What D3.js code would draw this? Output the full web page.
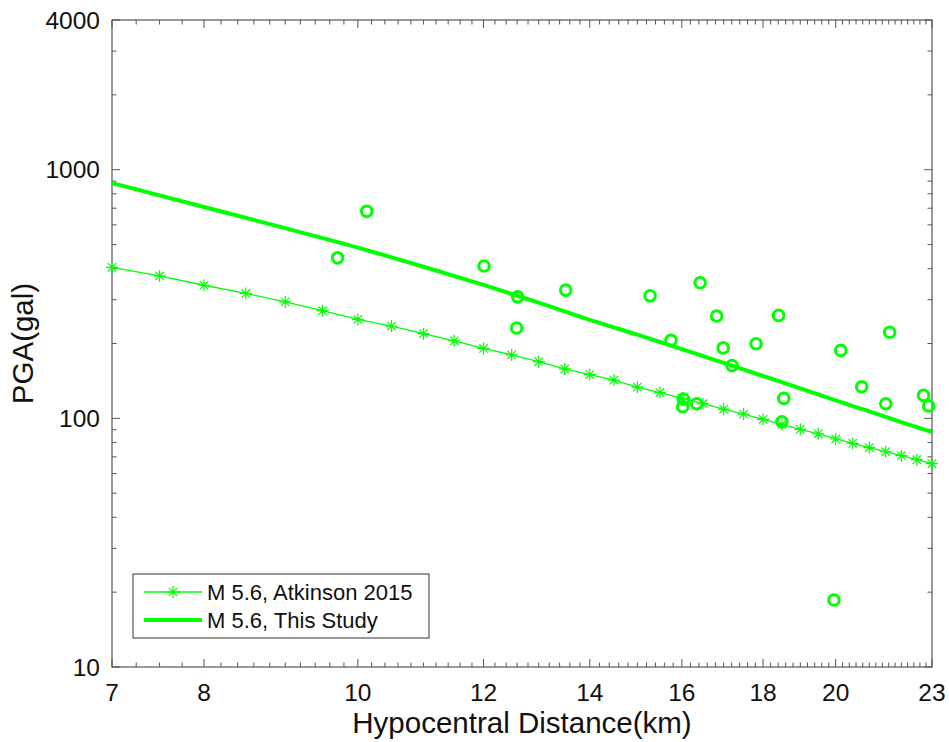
<!DOCTYPE html>
<html>
<head>
<meta charset="utf-8">
<script src="https://cdn.jsdelivr.net/npm/d3@7"></script>
<style>
  body { margin: 0; background: #fff; }
  text { font-family: "Liberation Sans", Arial, sans-serif; fill: #111; }
</style>
</head>
<body>
<script>
// Atkinson 2015 curve, one marker every 0.5 km
var atkDist = [7, 7.5, 8, 8.5, 9, 9.5, 10, 10.5, 11, 11.5, 12, 12.5, 13, 13.5, 14, 14.5, 15,
               15.5, 16, 16.5, 17, 17.5, 18, 18.5, 19, 19.5, 20, 20.5, 21, 21.5, 22, 22.5, 23];
var atkPga = [405, 374, 343, 318, 294, 271, 250, 235, 219, 205, 191, 180, 169, 158, 150, 142.6, 133.5,
              127, 120.5, 114.5, 109, 104, 99, 94.5, 90.3, 86.7, 82.6, 79.3, 76.3, 73.4, 70.8, 68.2, 65.8];

// this study curve
var studyDist = [7, 8, 9, 10, 11, 12, 13, 14, 15, 16, 17, 18, 19, 20, 21, 22, 23];
var studyPga = [884, 708, 582, 486, 407, 344, 292, 249, 217, 190, 167, 148, 132, 118, 106.6, 96.5, 88];

// recorded stations
var obsDist = [9.71, 10.13, 12.01, 12.61, 12.59, 13.52, 15.28, 15.75, 16.43, 16.04, 16.02, 16.35, 16.83,
               16.99, 17.21, 17.82, 18.41, 18.55, 18.5, 19.95, 20.15, 20.77, 21.63, 21.51, 22.72, 22.89];
var obsPga = [442, 680, 410, 308, 231, 328, 311, 206, 351, 119.5, 111.3, 114.5, 258,
              192, 163, 199.5, 259.5, 120.3, 96.9, 18.6, 187.6, 134, 222, 114.5, 123.7, 112.1];

var xTicks = [7, 8, 10, 12, 14, 16, 18, 20, 23];
var xMinor = [7.25, 7.5, 7.75];
for (var t = 8.2; t < 22.9; t += 0.2) {
  var r = Math.round(t * 10) / 10;
  if (xTicks.indexOf(r) < 0) xMinor.push(r);
}
var yTicks = [10, 100, 1000, 4000];
var yMinor = [20, 30, 40, 50, 60, 70, 80, 90, 200, 300, 400, 500, 600, 700, 800, 900, 2000, 3000];

var legendLabels = ["M 5.6, Atkinson 2015", "M 5.6, This Study"];

var w = 949, h = 742;
var pL = 112, pT = 20, pR = 932, pB = 667;
var green = "#00ff00";
var axisColor = "#555";

var svg = d3.select("body").append("svg")
    .attr("width", w)
    .attr("height", h);

var x = d3.scaleLog().domain([7, 23]).range([pL, pR]);
var y = d3.scaleLog().domain([10, 4000]).range([pB, pT]);

// ticks on all four sides, pointing inward
function ticksX(vals, len) {
  vals.forEach(function(v) {
    svg.append("line").attr("x1", x(v)).attr("x2", x(v)).attr("y1", pB).attr("y2", pB - len)
      .attr("stroke", axisColor);
    svg.append("line").attr("x1", x(v)).attr("x2", x(v)).attr("y1", pT).attr("y2", pT + len)
      .attr("stroke", axisColor);
  });
}
function ticksY(vals, len) {
  vals.forEach(function(v) {
    svg.append("line").attr("y1", y(v)).attr("y2", y(v)).attr("x1", pL).attr("x2", pL + len)
      .attr("stroke", axisColor);
    svg.append("line").attr("y1", y(v)).attr("y2", y(v)).attr("x1", pR).attr("x2", pR - len)
      .attr("stroke", axisColor);
  });
}
ticksX(xTicks, 8);
ticksX(xMinor, 4.5);
ticksY(yTicks, 8);
ticksY(yMinor, 4.5);

svg.append("rect")
  .attr("x", pL).attr("y", pT)
  .attr("width", pR - pL).attr("height", pB - pT)
  .attr("fill", "none")
  .attr("stroke", axisColor)
  .attr("stroke-width", 1.2);

svg.selectAll(".xlab")
  .data(xTicks)
  .enter()
  .append("text")
  .attr("x", function(d) { return x(d); })
  .attr("y", 701)
  .attr("text-anchor", "middle")
  .attr("font-size", "24.5px")
  .text(function(d) { return d; });

svg.selectAll(".ylab")
  .data(yTicks)
  .enter()
  .append("text")
  .attr("x", 100)
  .attr("y", function(d) { return y(d) + 8.5; })
  .attr("text-anchor", "end")
  .attr("font-size", "24.5px")
  .text(function(d) { return d; });

svg.append("text")
  .attr("x", (pL + pR) / 2)
  .attr("y", 733)
  .attr("text-anchor", "middle")
  .attr("font-size", "29.5px")
  .text("Hypocentral Distance(km)");

svg.append("text")
  .attr("transform", "translate(33," + ((pT + pB) / 2) + ") rotate(-90)")
  .attr("text-anchor", "middle")
  .attr("font-size", "29.5px")
  .text("PGA(gal)");

var plot = svg.append("g");

var atkLine = d3.line()
  .x(function(d, i) { return x(atkDist[i]); })
  .y(function(d) { return y(d); });

plot.append("path")
  .attr("d", atkLine(atkPga))
  .attr("fill", "none")
  .attr("stroke", green)
  .attr("stroke-width", 1.3);

var star = "M-6,0H6M0,-6V6M-4.2,-4.2L4.2,4.2M-4.2,4.2L4.2,-4.2";

plot.selectAll(".star")
  .data(atkPga)
  .enter()
  .append("path")
  .attr("transform", function(d, i) { return "translate(" + x(atkDist[i]) + "," + y(d) + ")"; })
  .attr("d", star)
  .attr("stroke", green)
  .attr("stroke-width", 1.2);

var studyLine = d3.line()
  .x(function(d, i) { return x(studyDist[i]); })
  .y(function(d) { return y(d); })
  .curve(d3.curveMonotoneX);

plot.append("path")
  .attr("d", studyLine(studyPga))
  .attr("fill", "none")
  .attr("stroke", green)
  .attr("stroke-width", 4);

plot.selectAll("circle")
  .data(obsPga)
  .enter()
  .append("circle")
  .attr("cx", function(d, i) { return x(obsDist[i]); })
  .attr("cy", function(d) { return y(d); })
  .attr("r", 5.3)
  .attr("fill", "none")
  .attr("stroke", green)
  .attr("stroke-width", 3);

// legend
var lg = svg.append("g");
lg.append("rect")
  .attr("x", 133).attr("y", 574)
  .attr("width", 296).attr("height", 64)
  .attr("fill", "#fff")
  .attr("stroke", "#333")
  .attr("stroke-width", 1);

lg.append("line")
  .attr("x1", 144).attr("x2", 202).attr("y1", 592).attr("y2", 592)
  .attr("stroke", green).attr("stroke-width", 1.3);
lg.append("path")
  .attr("transform", "translate(173,592)")
  .attr("d", star)
  .attr("stroke", green)
  .attr("stroke-width", 1.2);
lg.append("line")
  .attr("x1", 144).attr("x2", 202).attr("y1", 620).attr("y2", 620)
  .attr("stroke", green).attr("stroke-width", 4);

lg.selectAll(".ltext")
  .data(legendLabels)
  .enter()
  .append("text")
  .attr("x", 207)
  .attr("y", function(d, i) { return 600 + i * 28; })
  .attr("font-size", "22px")
  .text(function(d) { return d; });
</script>
</body>
</html>
